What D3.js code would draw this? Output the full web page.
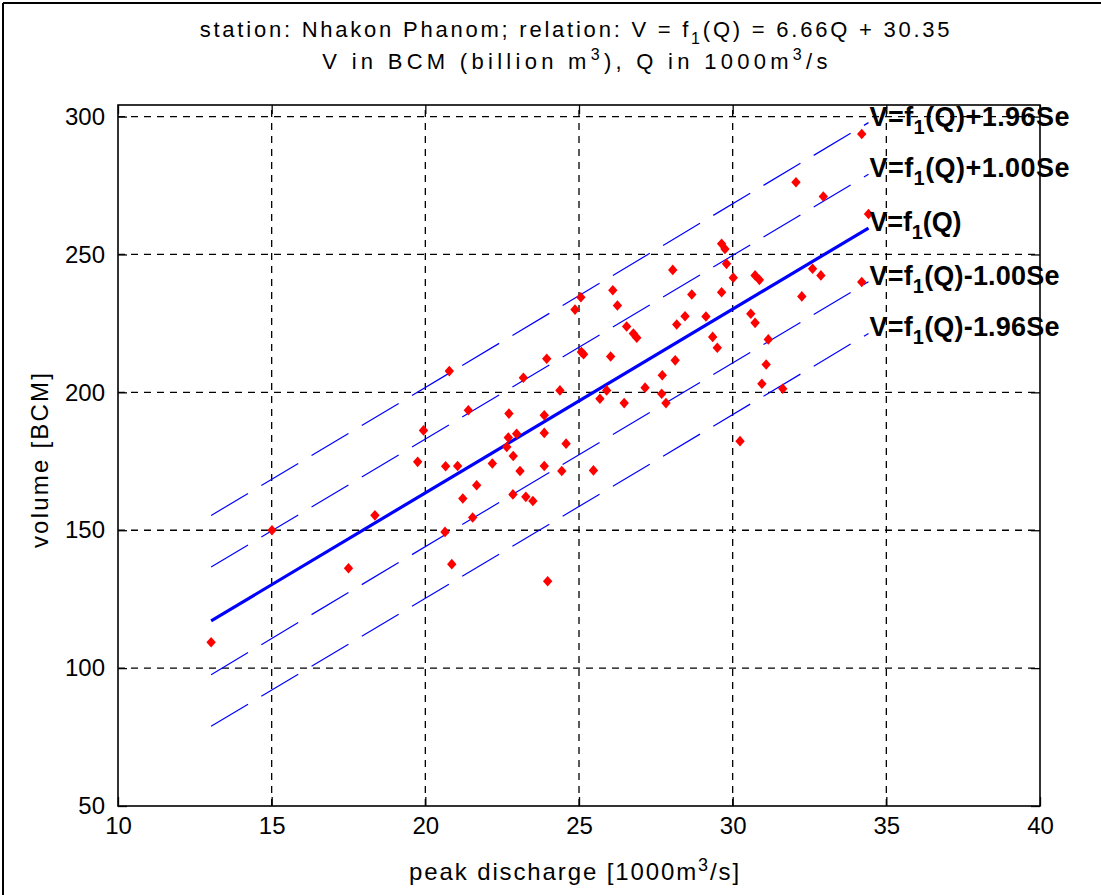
<!DOCTYPE html>
<html>
<head>
<meta charset="utf-8">
<script src="https://cdn.jsdelivr.net/npm/d3@7"></script>
<style>
  body { margin: 0; background: #fff; }
  text { font-family: "Liberation Sans", Arial, Helvetica, sans-serif; fill: #000; }
</style>
</head>
<body>
<div id="container"></div>
<script>
/* CONSTANTS AND GLOBALS */
const width = 1101,
  height = 895,
  margin = { top: 105, bottom: 89, left: 118, right: 61 };

/* DATA */
// peak discharge Q [1000 m3/s]
const qValues = [
  13.03, 15.01, 17.5, 18.36, 19.75, 19.94, 20.64, 20.66, 20.78, 20.86,
  21.05, 21.22, 21.4, 21.54, 21.67, 22.18, 22.65, 22.7, 22.72, 22.85,
  22.86, 22.97, 23.08, 23.19, 23.27, 23.5, 23.87, 23.87, 23.87, 23.95,
  23.98, 24.38, 24.44, 24.58, 24.87, 25.06, 25.08, 25.15, 25.47, 25.68,
  25.9, 26.03, 26.1, 26.25, 26.47, 26.55, 26.77, 26.88, 27.15, 27.69,
  27.71, 27.83, 28.05, 28.13, 28.18, 28.45, 28.67, 29.13, 29.35, 29.5,
  29.64, 29.64, 29.75, 29.8, 30.02, 30.24, 30.59, 30.73, 30.73, 30.87,
  30.95, 31.09, 31.16, 31.63, 32.06, 32.25, 32.6, 32.87, 32.95, 34.2,
  34.2, 34.42
];
// volume V [BCM]
const vValues = [
  109.4, 150.0, 136.2, 155.4, 174.8, 186.2, 149.4, 173.2, 207.7, 137.7,
  173.3, 161.5, 193.5, 154.6, 166.3, 174.2, 180.2, 183.6, 192.3, 163.0,
  176.9, 185.0, 171.5, 205.3, 162.1, 160.6, 191.7, 185.3, 173.3, 212.2,
  131.5, 200.7, 171.5, 181.4, 230.0, 234.5, 214.6, 213.8, 171.7, 197.7,
  200.7, 213.0, 237.0, 231.5, 196.1, 223.9, 221.3, 219.8, 201.7, 199.5,
  206.2, 196.1, 244.4, 211.6, 224.6, 227.6, 235.5, 227.5, 220.1, 216.2,
  253.9, 236.3, 252.0, 246.6, 241.6, 182.3, 228.5, 242.4, 225.2, 240.8,
  203.1, 210.1, 219.2, 201.3, 276.2, 234.8, 244.8, 242.4, 271.0, 293.7,
  240.0, 264.7
];

const slope = 6.66,
  intercept = 30.35,
  stdErr = 19.5;

const bandFactors = [1.96, 1.00, 0, -1.00, -1.96];
const bandSuffix = ["+1.96Se", "+1.00Se", "", "-1.00Se", "-1.96Se"];
const labelWidths = [200, 200, 92, 190, 190];

const xTicks = [10, 15, 20, 25, 30, 35, 40];
const yTicks = [50, 100, 150, 200, 250, 300];
const xDomain = [10, 40];
const yDomain = [50, 304.2];

const f1 = q => slope * q + intercept;

const points = qValues.map((q, i) => ({ q: q, v: vValues[i] }));

/* SCALES */
const xScale = d3.scaleLinear()
  .domain(xDomain)
  .range([margin.left, width - margin.right]);

const yScale = d3.scaleLinear()
  .domain(yDomain)
  .range([height - margin.bottom, margin.top]);

// stretch text out to a target width (matlab-ish spacing)
function fitWidth(sel, target) {
  sel.each(function () {
    const w = this.getComputedTextLength();
    const n = this.textContent.length;
    if (n > 1) d3.select(this).attr("letter-spacing", ((target - w) / (n - 1)).toFixed(2));
  });
}

/* SVG */
const svg = d3.select("#container")
  .append("svg")
  .attr("width", width)
  .attr("height", height)
  .style("display", "block");

// figure frame (top + left edge)
svg.append("line").attr("x1", 3).attr("x2", width).attr("y1", 3).attr("y2", 3)
  .attr("stroke", "#000").attr("stroke-width", 2);
svg.append("line").attr("x1", 3).attr("x2", 3).attr("y1", 3).attr("y2", height)
  .attr("stroke", "#000").attr("stroke-width", 2);

// GRID
const gridX = xTicks.filter(d => d > xDomain[0] && d < xDomain[1]);
const gridY = yTicks.filter(d => d > yDomain[0] && d < yDomain[1]);

svg.append("g").selectAll("line")
  .data(gridX)
  .join("line")
  .attr("x1", d => xScale(d)).attr("x2", d => xScale(d))
  .attr("y1", yScale(yDomain[0])).attr("y2", yScale(yDomain[1]))
  .attr("stroke", "#000").attr("stroke-width", 1.3)
  .attr("stroke-dasharray", "7,6");

svg.append("g").selectAll("line")
  .data(gridY)
  .join("line")
  .attr("x1", xScale(xDomain[0])).attr("x2", xScale(xDomain[1]))
  .attr("y1", d => yScale(d)).attr("y2", d => yScale(d))
  .attr("stroke", "#000").attr("stroke-width", 1.3)
  .attr("stroke-dasharray", "7,6");

// BAND LINES
const qExtent = d3.extent(qValues);
const line = d3.line()
  .x(d => xScale(d[0]))
  .y(d => yScale(d[1]));

bandFactors.forEach(k => {
  svg.append("path")
    .datum(qExtent.map(q => [q, f1(q) + k * stdErr]))
    .attr("d", line)
    .attr("fill", "none")
    .attr("stroke", "#0000ff")
    .attr("stroke-width", k === 0 ? 3.2 : 1.2)
    .attr("stroke-dasharray", k === 0 ? null : "43,15.5");
});

// POINTS
svg.append("g").selectAll("path")
  .data(points)
  .join("path")
  .attr("transform", d => `translate(${xScale(d.q)},${yScale(d.v)})`)
  .attr("d", "M0,-5.3L4.7,0L0,5.3L-4.7,0Z")
  .attr("fill", "#ff0000");

// AXES
const axisFont = g => g.selectAll("text")
  .style("font-family", '"Liberation Sans", Arial, sans-serif')
  .style("font-size", "24px")
  .attr("fill", "#000");

const axisStroke = g => g.selectAll("line").attr("stroke", "#000").attr("stroke-width", 1.3);

svg.append("g")
  .attr("transform", `translate(0,${yScale(yDomain[0])})`)
  .call(d3.axisBottom(xScale).tickValues(xTicks).tickSizeInner(-9).tickSizeOuter(0).tickPadding(11))
  .call(g => g.select(".domain").remove())
  .call(axisStroke)
  .call(axisFont);

svg.append("g")
  .attr("transform", `translate(${xScale(xDomain[0])},0)`)
  .call(d3.axisLeft(yScale).tickValues(yTicks).tickSizeInner(-9).tickSizeOuter(0).tickPadding(13))
  .call(g => g.select(".domain").remove())
  .call(axisStroke)
  .call(axisFont);

svg.append("g")
  .attr("transform", `translate(0,${yScale(yDomain[1])})`)
  .call(d3.axisTop(xScale).tickValues(xTicks).tickSizeInner(-9).tickSizeOuter(0).tickFormat(""))
  .call(g => g.select(".domain").remove())
  .call(axisStroke);

svg.append("g")
  .attr("transform", `translate(${xScale(xDomain[1])},0)`)
  .call(d3.axisRight(yScale).tickValues(yTicks).tickSizeInner(-9).tickSizeOuter(0).tickFormat(""))
  .call(g => g.select(".domain").remove())
  .call(axisStroke);

// box
svg.append("rect")
  .attr("x", xScale(xDomain[0]))
  .attr("y", yScale(yDomain[1]))
  .attr("width", xScale(xDomain[1]) - xScale(xDomain[0]))
  .attr("height", yScale(yDomain[0]) - yScale(yDomain[1]))
  .attr("fill", "none")
  .attr("stroke", "#000")
  .attr("stroke-width", 1.6);

// LINE LABELS
const qMax = qExtent[1];
bandFactors.forEach((k, i) => {
  const t = svg.append("text")
    .attr("x", xScale(qMax) + 1)
    .attr("y", yScale(f1(qMax) + k * stdErr) + 3)
    .style("font-size", "27px")
    .style("font-weight", "bold");
  t.append("tspan").text("V=f");
  t.append("tspan").text("1").attr("dy", 8).style("font-size", "20px");
  t.append("tspan").text("(Q)" + bandSuffix[i]).attr("dy", -8);
  fitWidth(t, labelWidths[i]);
});

// TITLES
const cx = (xScale(xDomain[0]) + xScale(xDomain[1])) / 2;

const title1 = svg.append("text")
  .attr("x", cx - 3).attr("y", 37)
  .attr("text-anchor", "middle")
  .style("font-size", "22px");
title1.append("tspan").text("station: Nhakon Phanom; relation: V = f");
title1.append("tspan").text("1").attr("dy", 7).style("font-size", "16px");
title1.append("tspan").text("(Q) = 6.66Q + 30.35").attr("dy", -7);
fitWidth(title1, 750);

const title2 = svg.append("text")
  .attr("x", cx - 2).attr("y", 69)
  .attr("text-anchor", "middle")
  .style("font-size", "22px");
title2.append("tspan").text("V in BCM (billion m");
title2.append("tspan").text("3").attr("dy", -9).style("font-size", "16px");
title2.append("tspan").text("), Q in 1000m").attr("dy", 9);
title2.append("tspan").text("3").attr("dy", -9).style("font-size", "16px");
title2.append("tspan").text("/s").attr("dy", 9);
fitWidth(title2, 505);

// AXIS LABELS
const xLabel = svg.append("text")
  .attr("x", cx - 4).attr("y", 880)
  .attr("text-anchor", "middle")
  .style("font-size", "24px");
xLabel.append("tspan").text("peak discharge [1000m");
xLabel.append("tspan").text("3").attr("dy", -9).style("font-size", "18px");
xLabel.append("tspan").text("/s]").attr("dy", 9);
fitWidth(xLabel, 330);

const yLabel = svg.append("text")
  .attr("transform", `translate(48,${(yScale(yDomain[0]) + yScale(yDomain[1])) / 2 + 4}) rotate(-90)`)
  .attr("text-anchor", "middle")
  .style("font-size", "24px")
  .text("volume [BCM]");
fitWidth(yLabel, 175);
</script>
</body>
</html>
